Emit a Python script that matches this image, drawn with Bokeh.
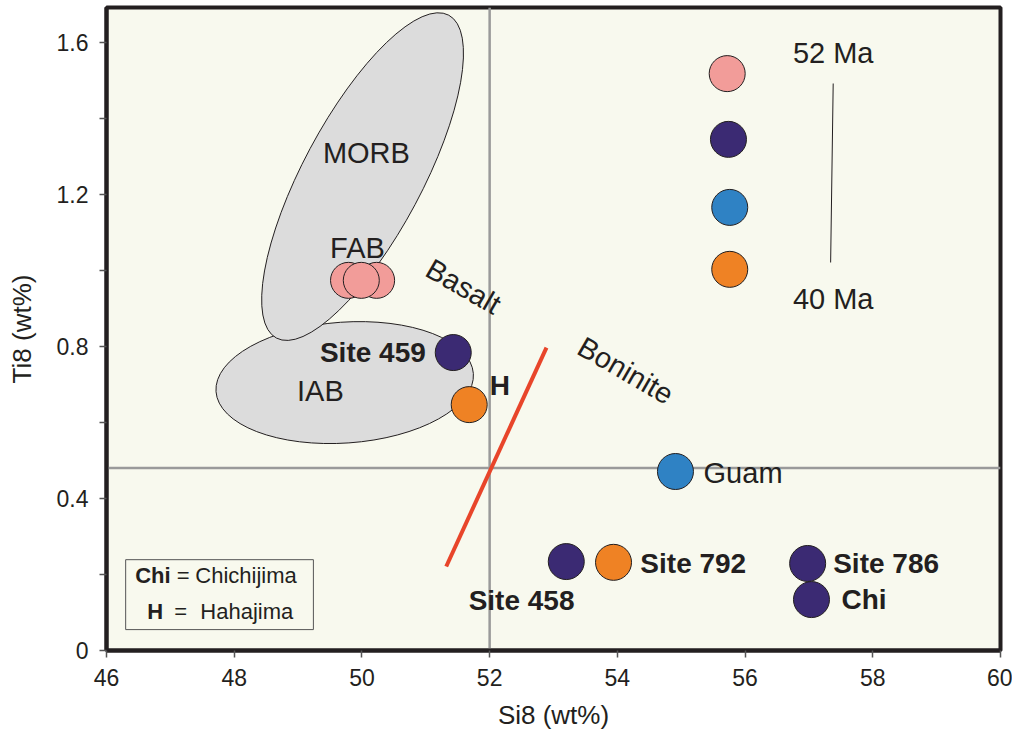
import math
from bokeh.plotting import figure
from bokeh.models import Range1d, FixedTicker, Span
from bokeh.core.properties import value
from bokeh.embed import file_html
from bokeh.resources import INLINE

# ---------------- data (Si8, Ti8 in wt%) ----------------
fab_si8 = [49.79, 50.23, 49.99]
fab_ti8 = [0.974, 0.974, 0.974]

site_names = ["Site 459", "H", "Site 458", "Site 792", "Site 786", "Chi", "Guam"]
site_si8 = [51.43, 51.68, 53.20, 53.94, 56.98, 57.04, 54.91]
site_ti8 = [0.784, 0.647, 0.234, 0.232, 0.229, 0.134, 0.471]
site_group = ["purple", "orange", "purple", "orange", "purple", "purple", "blue"]

age_labels = ["52 Ma", "40 Ma"]
age_si8 = [55.72, 55.74, 55.76, 55.76]
age_ti8 = [1.518, 1.345, 1.166, 1.003]
age_group = ["pink", "purple", "blue", "orange"]

field_names = ["IAB", "MORB"]
field_si8 = [49.73, 50.01]
field_ti8 = [0.705, 1.247]

boundary_si8 = [51.32, 52.89]
boundary_ti8 = [0.221, 0.797]

age_bar_si8 = [57.38, 57.34]
age_bar_ti8 = [1.492, 1.021]

divider_si8 = 52.0
divider_ti8 = 0.48

x_ticks = [46, 48, 50, 52, 54, 56, 58, 60]
y_ticks = [0, 0.4, 0.8, 1.2, 1.6]
y_minor = [0.2, 0.6, 1.0, 1.4]

# ---------------- styles ----------------
palette = {"pink": "#f29c99", "purple": "#3b2a73", "blue": "#2f82c4", "orange": "#ef8224"}
INK = "#231f20"
FONT = "Liberation Sans"

p = figure(frame_width=894, frame_height=643, x_range=Range1d(46, 60), y_range=Range1d(0, 1.692),
           output_backend="svg", toolbar_location=None,
           min_border_left=106, min_border_right=12, min_border_top=7, min_border_bottom=84)
p.grid.visible = False
p.background_fill_color = "#f8f9ee"
p.border_fill_color = "white"
p.outline_line_color = INK
p.outline_line_width = 4

p.xaxis.ticker = FixedTicker(ticks=x_ticks)
p.yaxis.ticker = FixedTicker(ticks=y_ticks, minor_ticks=y_minor)
p.yaxis.major_label_overrides = {0: "0"}
for ax in (p.xaxis[0], p.yaxis[0]):
    ax.axis_line_color = INK
    ax.axis_line_width = 4
    ax.major_tick_line_color = "#555555"
    ax.major_tick_line_width = 1.5
    ax.major_tick_out = 7
    ax.major_tick_in = 0
    ax.minor_tick_line_color = "#555555"
    ax.minor_tick_line_width = 1.5
    ax.minor_tick_out = 7
    ax.minor_tick_in = 0
    ax.major_label_text_font = FONT
    ax.major_label_text_font_size = "23px"
    ax.major_label_text_color = INK
    ax.major_label_standoff = 11
    ax.axis_label_text_font = FONT
    ax.axis_label_text_font_size = "26px"
    ax.axis_label_text_font_style = "normal"
    ax.axis_label_text_color = INK

p.xaxis.axis_label = "Si8 (wt%)"
p.xaxis.axis_label_standoff = 11
p.yaxis.axis_label = "Ti8 (wt%)"
p.yaxis.axis_label_standoff = 17

# reference lines
p.add_layout(Span(location=divider_si8, dimension="height", line_color="#9a9a9a",
                  line_width=2.5, level="underlay"))
p.add_layout(Span(location=divider_ti8, dimension="width", line_color="#9a9a9a",
                  line_width=2.5, level="underlay"))

# compositional fields
p.ellipse(x=field_si8, y=field_ti8, width=[258, 366], height=[121, 119], angle=[4, 61.9],
          width_units="screen", height_units="screen", angle_units="deg",
          fill_color="#dcdcdc", line_color=INK, line_width=1)

# basalt / boninite boundary
p.line(boundary_si8, boundary_ti8, line_color="#e8452a", line_width=4)
# age line
p.line(age_bar_si8, age_bar_ti8, line_color=INK, line_width=1)

# points
p.scatter(fab_si8, fab_ti8, size=36, fill_color=palette["pink"], line_color=INK, line_width=1)
p.scatter(site_si8, site_ti8, size=36, fill_color=[palette[g] for g in site_group],
          line_color=INK, line_width=1)
p.scatter(age_si8, age_ti8, size=36, fill_color=[palette[g] for g in age_group],
          line_color=INK, line_width=1)

txt = dict(text_font=value(FONT), text_color=INK, text_baseline="middle")
p.text(x=[50.07, 49.93, 49.35], y=[1.308, 1.058, 0.684],
       text=["MORB", "FAB", "IAB"], text_align="center", text_font_size="29px", **txt)
p.text(x=[57.38, 57.38], y=[1.571, 0.924], text=age_labels, text_align="center",
       text_font_size="29px", **txt)
p.text(x=[55.35], y=[0.466], text=[site_names[6]], text_align="left", text_font_size="29px", **txt)
p.text(x=[51.59, 54.13], y=[0.958, 0.737], text=["Basalt", "Boninite"], angle=-30,
       angle_units="deg", text_align="center", text_font_size="29px", **txt)

# bold site labels
bold = dict(text_font=value(FONT), text_color=INK, text_baseline="middle",
            text_font_style="bold", text_font_size="28px")
p.text(x=[51.0], y=[0.784], text=[site_names[0]], text_align="right", **bold)
p.text(x=[52.50], y=[0.132], text=[site_names[2]], text_align="center", **bold)
p.text(x=[52.0, 54.36, 57.38, 57.51], y=[0.697, 0.229, 0.229, 0.134],
       text=[site_names[1], site_names[3], site_names[4], site_names[5]],
       text_align="left", **bold)

# key box
p.quad(left=[46.30], right=[49.24], bottom=[0.055], top=[0.239],
       fill_color=None, line_color="#555555", line_width=1)
p.text(x=[46.45, 46.64], y=[0.197, 0.103], text=["Chi", "H"], text_align="left",
       text_font=value(FONT), text_color=INK, text_baseline="middle",
       text_font_style="bold", text_font_size="22px")
p.text(x=[47.10, 47.39, 47.06, 47.47], y=[0.197, 0.197, 0.103, 0.103],
       text=["=", "Chichijima", "=", "Hahajima"], text_align="left",
       text_font=value(FONT), text_color=INK, text_baseline="middle", text_font_size="22px")

open("out.html", "w").write(file_html(p, INLINE))
